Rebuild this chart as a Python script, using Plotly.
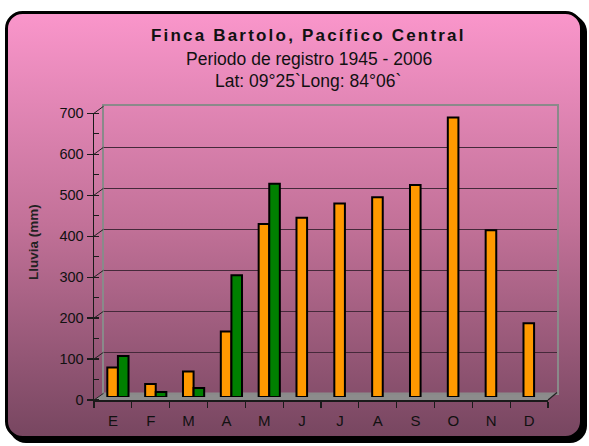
import base64
import plotly.graph_objects as go

# ---- data ----
months = ["E", "F", "M", "A", "M", "J", "J", "A", "S", "O", "N", "D"]
serie_historica = [72, 32, 62, 160, 422, 437, 472, 487, 517, 682, 407, 180]
serie_anual = [100, 12, 22, 297, 520, None, None, None, None, None, None, None]
y_ticks = [0, 100, 200, 300, 400, 500, 600, 700]

W, H = 589, 446


def fx(p):
    return p / W


def fy(p):
    return 1 - p / H


FONT = "Arial, Liberation Sans, sans-serif"
xs = list(range(len(months)))

fig = go.Figure()

# invisible helper traces so the wall and front axes are drawn
fig.add_trace(go.Scatter(x=xs, y=serie_historica, xaxis="x", yaxis="y", mode="none",
                         hoverinfo="skip", showlegend=False))
fig.add_trace(go.Scatter(x=xs, y=serie_historica, xaxis="x2", yaxis="y2", mode="none",
                         hoverinfo="skip", showlegend=False))

# bars (mid-depth plane)
fig.add_trace(go.Bar(x=xs, y=serie_historica, xaxis="x3", yaxis="y3",
                     marker=dict(color="#FF9900", line=dict(color="#000000", width=2)),
                     name="Promedio", showlegend=False))
fig.add_trace(go.Bar(x=xs, y=serie_anual, xaxis="x3", yaxis="y3",
                     marker=dict(color="#008000", line=dict(color="#000000", width=2)),
                     name="2006", showlegend=False))

# background svg (rounded panel with gradient)
svg = f"""<svg xmlns='http://www.w3.org/2000/svg' width='{W}' height='{H}' viewBox='0 0 {W} {H}' preserveAspectRatio='none'>
<defs><linearGradient id='g' x1='0' y1='0' x2='0' y2='1'>
<stop offset='0' stop-color='#FA96CB'/><stop offset='0.5' stop-color='#C27198'/><stop offset='1' stop-color='#774660'/>
</linearGradient></defs>
<rect x='9' y='15' width='578' height='428' rx='17' fill='#000'/>
<rect x='6.5' y='12.5' width='575' height='425' rx='16' fill='url(#g)' stroke='#000' stroke-width='3'/>
</svg>"""
src = "data:image/svg+xml;base64," + base64.b64encode(svg.encode()).decode()

shapes = []
# floor
shapes.append(dict(type="path", xref="paper", yref="paper", layer="below",
                   path=f"M {fx(94)},{fy(400)} L {fx(548)},{fy(400)} L {fx(557)},{fy(392.5)} L {fx(103.5)},{fy(392.5)} Z",
                   fillcolor="#8C8C8C", line=dict(width=0)))
# diagonal ticks from front axis to back wall
for v in y_ticks:
    shapes.append(dict(type="line", xref="paper", yref="paper", layer="above",
                       x0=fx(94), y0=fy(400 - v * 0.4096), x1=fx(103.5), y1=fy(393.3 - v * 0.41),
                       line=dict(color="#222222", width=1)))
shapes.append(dict(type="line", xref="paper", yref="paper", layer="above",
                   x0=fx(548), y0=fy(400), x1=fx(557), y1=fy(392.5),
                   line=dict(color="#222222", width=1.2)))

annotations = [
    dict(text="<b>Finca Bartolo, Pacífico Central</b>", x=fx(308), y=fy(35), xref="paper", yref="paper",
         showarrow=False, font=dict(family=FONT, size=17, color="#111111"), xanchor="center", yanchor="middle"),
    dict(text="Periodo de registro 1945 - 2006", x=fx(309), y=fy(59), xref="paper", yref="paper",
         showarrow=False, font=dict(family=FONT, size=17.5, color="#111111"), xanchor="center", yanchor="middle"),
    dict(text="Lat: 09°25`Long: 84°06`", x=fx(308), y=fy(81), xref="paper", yref="paper",
         showarrow=False, font=dict(family=FONT, size=17.5, color="#111111"), xanchor="center", yanchor="middle"),
    dict(text="<b>Lluvia (mm)</b>", x=fx(33), y=fy(242), xref="paper", yref="paper", textangle=-90,
         showarrow=False, font=dict(family=FONT, size=13.5, color="#222222"), xanchor="center", yanchor="middle"),
]

fig.update_layout(
    width=W, height=H,
    margin=dict(l=0, r=0, t=0, b=0, pad=0, autoexpand=False),
    paper_bgcolor="#FFFFFF",
    plot_bgcolor="rgba(0,0,0,0)",
    barmode="group", bargap=0.44, bargroupgap=0,
    showlegend=False,
    hovermode=False,
    images=[dict(source=src, xref="paper", yref="paper", x=0, y=1, sizex=1, sizey=1,
                 xanchor="left", yanchor="top", sizing="stretch", layer="below")],
    shapes=shapes,
    annotations=annotations,
    # back wall
    xaxis=dict(domain=[fx(103.5), fx(557)], range=[-0.5, 11.5], anchor="y", showgrid=False, zeroline=False,
               automargin=False, showticklabels=False, ticks="", showline=True, mirror=True,
               linecolor="#8A8A8A", linewidth=2),
    yaxis=dict(domain=[fy(393.3), fy(106.3)], range=[0, 700], anchor="x", dtick=100, showgrid=True,
               gridcolor="#45293A", gridwidth=1.5, zeroline=False, showticklabels=False, ticks="",
               automargin=False, showline=True, mirror=True, linecolor="#8A8A8A", linewidth=2),
    # front axes
    xaxis2=dict(domain=[fx(94), fx(548)], range=[-0.5, 11.5], anchor="y2", tickmode="array",
                tickvals=xs, ticktext=months, ticks="", showgrid=False, zeroline=False, automargin=False,
                showline=True, linecolor="#1A1A1A", linewidth=1.5, ticklabelstandoff=6,
                tickfont=dict(family=FONT, size=15, color="#111111"),
                minor=dict(tick0=-0.5, dtick=1, ticks="outside", ticklen=6, tickcolor="#1A1A1A",
                           tickwidth=1.2, showgrid=False)),
    yaxis2=dict(domain=[fy(400), fy(113.3)], range=[0, 700], anchor="x2", tickmode="array",
                tickvals=y_ticks, ticks="outside", ticklen=6, tickcolor="#1A1A1A", tickwidth=1.2,
                showgrid=False, zeroline=False, automargin=False, showline=True, linecolor="#1A1A1A",
                linewidth=1.5, tickfont=dict(family=FONT, size=14.5, color="#111111"),
                minor=dict(dtick=50, tick0=0, ticks="inside", ticklen=5, tickcolor="#1A1A1A",
                           tickwidth=1.2, showgrid=False)),
    # bars plane
    xaxis3=dict(domain=[fx(99), fx(553)], range=[-0.5, 11.5], anchor="y3", visible=False, automargin=False),
    yaxis3=dict(domain=[fy(397), fy(110)], range=[0, 700], anchor="x3", visible=False, automargin=False),
)

post = """
document.body.style.margin = '0';
document.querySelectorAll('.annotation-text').forEach(function(e){
  if (e.textContent.indexOf('Finca') === 0) { e.style.letterSpacing = '2.2px'; }
});
"""
fig.write_html("out.html", post_script=post, config={"displayModeBar": False, "staticPlot": True})
